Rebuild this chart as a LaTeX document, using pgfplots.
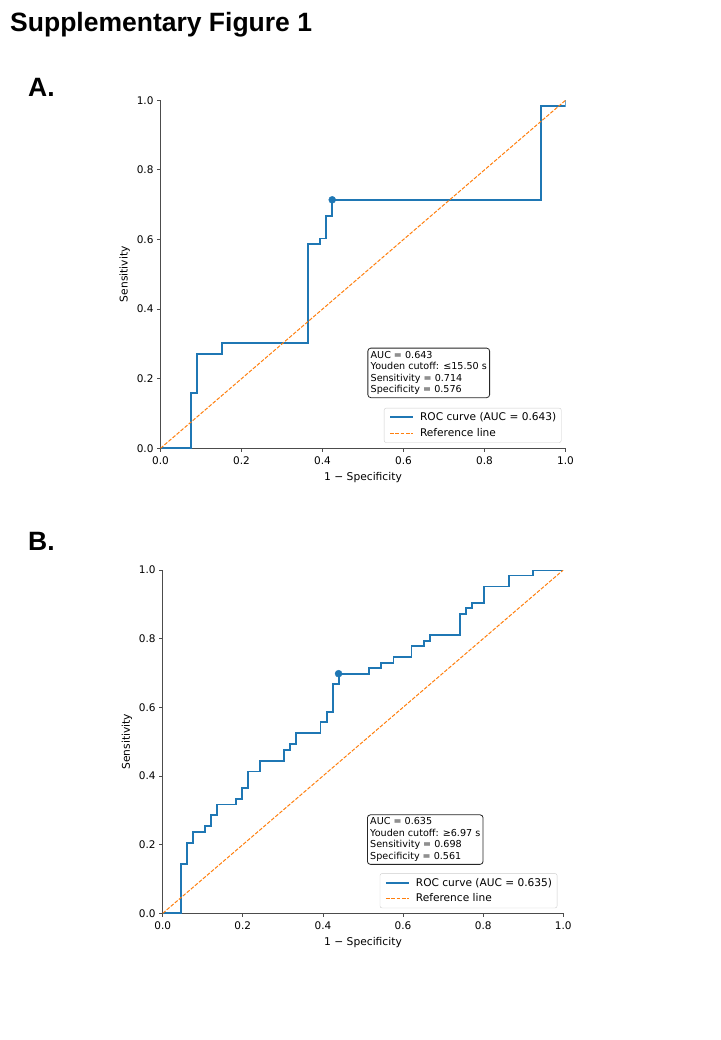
\documentclass[border=0pt]{standalone}
\usepackage{fontspec}
\setmainfont{DejaVu Sans}
\newfontfamily\arialbold{Liberation Sans}[BoldFont={Liberation Sans Bold}]
\usepackage{pgfplots}
\pgfplotsset{compat=1.18}
\definecolor{rocblue}{HTML}{1F77B4}
\definecolor{refor}{HTML}{FF7F0E}
\pgfplotsset{
  rocaxis/.style={
    scale only axis,
    xmin=0, xmax=1, ymin=0, ymax=1,
    axis x line*=bottom, axis y line*=left,
    tick align=outside,
    major tick length=3.5pt,
    xtick={0,0.2,0.4,0.6,0.8,1.0},
    ytick={0,0.2,0.4,0.6,0.8,1.0},
    minor tick num=0,
    axis line style={black!70, line width=1pt},
    every tick/.style={black!70, line width=0.8pt},
    ticklabel style={font=\fontsize{10.5}{12}\selectfont},
    xticklabel style={yshift=-1pt},
    /pgf/number format/assume math mode=true,
    /pgf/number format/fixed,
    /pgf/number format/fixed zerofill,
    /pgf/number format/precision=1,
    xlabel={1 − Specificity},
    ylabel={Sensitivity},
    xlabel style={yshift=-1.5pt},
    label style={font=\fontsize{10.7}{12}\selectfont},
    legend style={font=\fontsize{10.6}{12.7}\selectfont, draw=black!20, rounded corners=2pt,
      anchor=south east, inner xsep=3pt, inner ysep=2.5pt, row sep=2.3pt},
    legend cell align=left,
    legend image code/.code={\draw[#1] (2pt,0pt) -- (25pt,0pt); \path (0pt,0pt) (29pt,0pt);},
  }
}
\begin{document}
\begin{tikzpicture}
\path[use as bounding box] (0pt,0pt) rectangle (720pt,-1040pt);
\node[anchor=base west, inner sep=0pt, font=\arialbold\bfseries\fontsize{26.5}{30}\selectfont] at (10pt,-31.5pt) {Supplementary Figure 1};
\node[anchor=base west, inner sep=0pt, font=\arialbold\bfseries\fontsize{26.5}{30}\selectfont] at (28pt,-96.7pt) {A.};
\node[anchor=base west, inner sep=0pt, font=\arialbold\bfseries\fontsize{26.5}{30}\selectfont] at (28pt,-550.7pt) {B.};

\begin{axis}[rocaxis, width=405pt, height=348pt, at={(160.5pt,-448.3pt)}, anchor=south west,
  legend style={at={(0.99,0.016)}}]
\addplot[rocblue, line width=1.9pt] coordinates {
(0,0) (0.076,0) (0.076,0.159) (0.091,0.159) (0.091,0.270) (0.152,0.270) (0.152,0.302)
(0.364,0.302) (0.364,0.587) (0.394,0.587) (0.394,0.603) (0.409,0.603) (0.409,0.667)
(0.424,0.667) (0.424,0.714) (0.939,0.714) (0.939,0.984) (1,0.984) (1,1)};
\addlegendentry{ROC curve (AUC = 0.643)}
\addplot[refor, line width=1pt, dash pattern=on 3.7pt off 1.6pt] coordinates {(0,0) (1,1)};
\addlegendentry{Reference line}
\addplot[only marks, mark=*, mark size=3.5pt, color=rocblue, forget plot] coordinates {(0.424,0.714)};
\node[draw=black!85, rounded corners=3pt, fill=white, align=left, anchor=north west, inner sep=2.8pt,
  font=\fontsize{9.6}{11.6}\selectfont, line width=0.8pt] at (rel axis cs:0.511,0.289)
  {AUC = 0.643\\Youden cutoff: ≤15.50 s\\Sensitivity = 0.714\\Specificity = 0.576};
\end{axis}

\begin{axis}[rocaxis, width=400.6pt, height=343.3pt, at={(162.7pt,-913.3pt)}, anchor=south west,
  legend style={at={(0.985,0.015)}}]
\addplot[rocblue, line width=1.9pt] coordinates {
(0,0) (0.045,0) (0.045,0.143) (0.061,0.143) (0.061,0.206) (0.076,0.206) (0.076,0.238)
(0.106,0.238) (0.106,0.254) (0.121,0.254) (0.121,0.286) (0.136,0.286) (0.136,0.317)
(0.182,0.317) (0.182,0.333) (0.197,0.333) (0.197,0.365) (0.212,0.365) (0.212,0.413)
(0.242,0.413) (0.242,0.444) (0.303,0.444) (0.303,0.476) (0.318,0.476) (0.318,0.492)
(0.333,0.492) (0.333,0.524) (0.394,0.524) (0.394,0.556) (0.409,0.556) (0.409,0.587)
(0.424,0.587) (0.424,0.667) (0.439,0.667) (0.439,0.698) (0.515,0.698) (0.515,0.714)
(0.545,0.714) (0.545,0.730) (0.576,0.730) (0.576,0.746) (0.621,0.746) (0.621,0.778)
(0.652,0.778) (0.652,0.794) (0.667,0.794) (0.667,0.810) (0.742,0.810) (0.742,0.873)
(0.758,0.873) (0.758,0.889) (0.773,0.889) (0.773,0.905) (0.803,0.905) (0.803,0.952)
(0.864,0.952) (0.864,0.984) (0.924,0.984) (0.924,1) (1,1)};
\addlegendentry{ROC curve (AUC = 0.635)}
\addplot[refor, line width=1pt, dash pattern=on 3.7pt off 1.6pt] coordinates {(0,0) (1,1)};
\addlegendentry{Reference line}
\addplot[only marks, mark=*, mark size=3.5pt, color=rocblue, forget plot] coordinates {(0.439,0.698)};
\node[draw=black!85, rounded corners=3pt, fill=white, align=left, anchor=north west, inner sep=2.8pt,
  font=\fontsize{9.6}{11.6}\selectfont, line width=0.8pt] at (rel axis cs:0.510,0.288)
  {AUC = 0.635\\Youden cutoff: ≥6.97 s\\Sensitivity = 0.698\\Specificity = 0.561};
\end{axis}
\end{tikzpicture}
\end{document}
